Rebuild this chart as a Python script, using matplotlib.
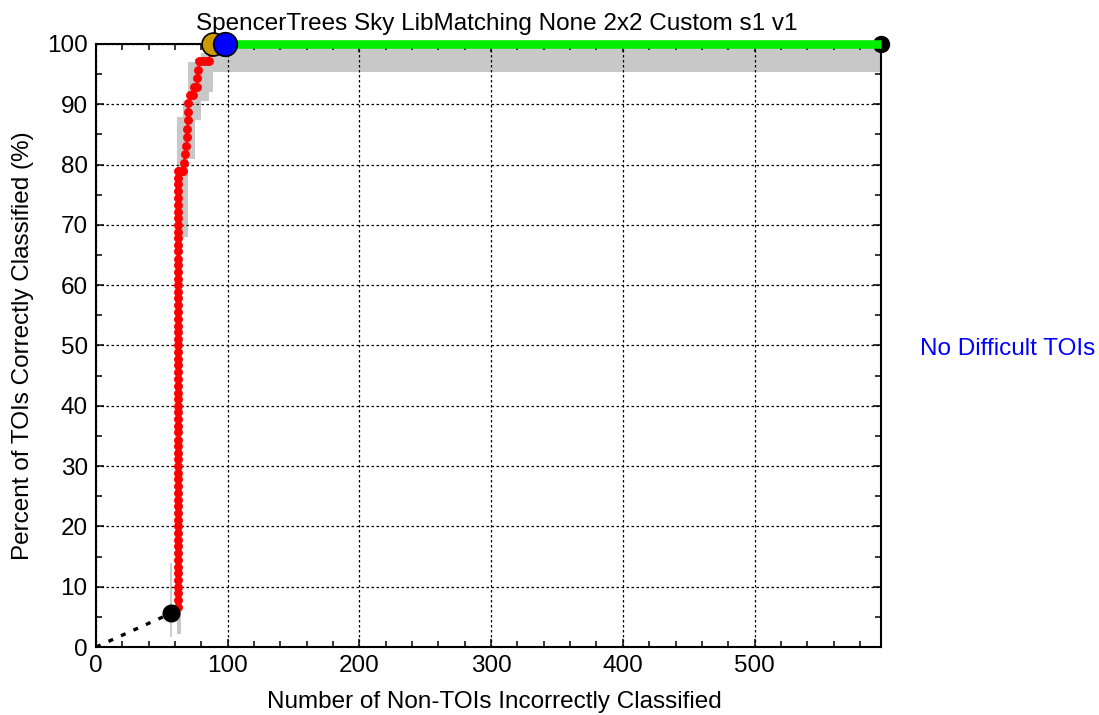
import numpy as np
import matplotlib
matplotlib.use('Agg')
import matplotlib.pyplot as plt
from matplotlib.ticker import MultipleLocator

plt.rcParams['font.family'] = ['Liberation Sans', 'DejaVu Sans']

TITLE = 'SpencerTrees Sky LibMatching None 2x2 Custom s1 v1'
N_NON_TOIS = 596

# ROC points (false alarms, percent of TOIs found)
roc_fa = [62] * 66 + [63, 64, 65, 66, 67, 67.6, 68.3, 69.3, 69.3, 70, 70, 70,
                      71.4, 72.5, 73.5, 74.5, 75.5, 76.5, 77, 77.7, 78.4,
                      80, 82, 84, 85.5, 87, 89]
roc_pd = [6.7, 7.8, 8.9, 10.0, 11.1, 12.2, 13.3, 14.4, 15.6, 16.7,
          17.8, 18.9, 20.0, 21.1, 22.2, 23.3, 24.4, 25.6, 26.7, 27.8,
          28.9, 30.0, 31.1, 32.2, 33.3, 34.4, 35.6, 36.7, 37.8, 38.9,
          40.0, 41.1, 42.2, 43.3, 44.4, 45.6, 46.7, 47.8, 48.9, 50.0,
          51.1, 52.2, 53.3, 54.4, 55.6, 56.7, 57.8, 58.9, 60.0, 61.1,
          62.2, 63.3, 64.4, 65.6, 66.7, 67.8, 68.9, 70.0, 71.1, 72.2,
          73.3, 74.4, 75.6, 76.7, 77.8, 78.9,
          78.9, 78.9, 78.9, 78.9, 80.2, 81.7, 83.1, 84.6, 85.9, 87.4, 88.8,
          90.2, 91.5, 91.5, 91.5, 92.9, 92.9, 92.9, 94.4, 95.7, 97.2,
          97.2, 97.2, 97.2, 97.2, 98.6, 100.0]

# confidence bounds (gray)
ci_line_fa = [57]
ci_line_lo = [1.7]
ci_line_hi = [14.0]
band_fa = [61.5, 64.5, 66, 70, 75, 80, 86, 89, N_NON_TOIS]
band_lo = [2.2, 67.5, 68.0, 81.0, 87.4, 90.5, 92.0, 95.3, 95.3]
band_hi = [87.9, 87.9, 90.5, 97.0, 97.5, 98.5, 99.5, 99.5, 99.5]

start_pt = (57, 5.6)
end_pt = (N_NON_TOIS, 100)
gold_pt = (89, 100)
blue_pt = (98, 100)

FS = 17.5

fig = plt.figure(figsize=(10.99, 7.15), dpi=100)
ax = fig.add_axes([0.0874, 0.0951, 0.8016 - 0.0874, 0.9385 - 0.0951])

ax.fill_between(band_fa, band_lo, band_hi, step='post', color='#c8c8c8',
                linewidth=0, zorder=1)
ax.vlines(ci_line_fa, ci_line_lo, ci_line_hi, color='#c8c8c8', lw=1.3, zorder=1)

# extrapolation from origin to first threshold
ax.plot([0, start_pt[0]], [0, start_pt[1]], color='black', lw=2.4,
        linestyle=(0, (1.5, 2.6)), zorder=3)

ax.plot(roc_fa, roc_pd, color='red', lw=1.5, marker='o', markersize=6.4,
        markeredgewidth=0, zorder=3)

ax.plot(*start_pt, 'o', color='black', markersize=12, zorder=5, clip_on=False)
ax.plot(*end_pt, 'o', color='black', markersize=11.5, zorder=4, clip_on=False)
ax.plot([blue_pt[0], end_pt[0]], [100, 100], color='#00ee00', lw=6.2,
        solid_capstyle='butt', zorder=4.5, clip_on=False)
ax.plot(*gold_pt, 'o', color='#cc9900', markeredgecolor='black',
        markeredgewidth=1.2, markersize=16.5, zorder=6, clip_on=False)
ax.plot(*blue_pt, 'o', color='#0000ff', markeredgecolor='black',
        markeredgewidth=1.2, markersize=17, zorder=7, clip_on=False)

ax.set_xlim(0, N_NON_TOIS)
ax.set_ylim(0, 100)
ax.xaxis.set_major_locator(MultipleLocator(100))
ax.xaxis.set_minor_locator(MultipleLocator(20))
ax.yaxis.set_major_locator(MultipleLocator(10))
ax.yaxis.set_minor_locator(MultipleLocator(5))
ax.tick_params(which='both', direction='in', top=True, right=True,
               labelsize=FS, width=1.1, color='black')
ax.tick_params(which='major', length=6, pad=6)
ax.tick_params(which='minor', length=4)
ax.grid(True, which='major', color='black', linestyle=(0, (2, 2)), lw=0.9)
for sp in ax.spines.values():
    sp.set_linewidth(1.5)

ax.set_title(TITLE, fontsize=FS, pad=10, x=0.511)
ax.set_xlabel('Number of Non-TOIs Incorrectly Classified', fontsize=FS, labelpad=10)
ax.xaxis.label.set_x(0.507)
ax.set_ylabel('Percent of TOIs Correctly Classified (%)', fontsize=FS, labelpad=9)

fig.text(0.917, 0.512, 'No Difficult TOIs', color='#0000ff', fontsize=FS,
         ha='center', va='center')

fig.savefig('out.png', dpi=100, facecolor='white')
